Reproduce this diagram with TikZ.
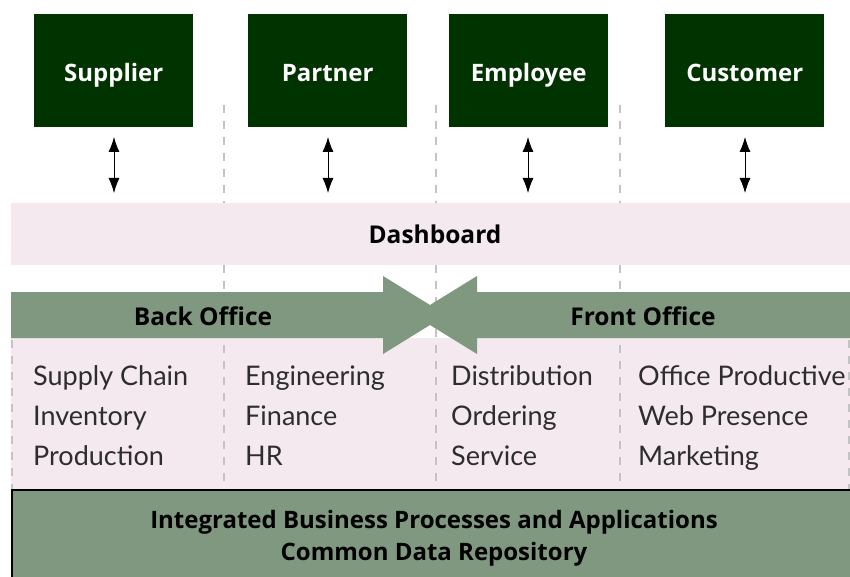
\documentclass[tikz,border=0pt]{standalone}
\usepackage{fontspec}
\setmainfont{Lato}
\newfontfamily\headfont{Open Sans}
\usetikzlibrary{arrows.meta}
\begin{document}
\begin{tikzpicture}[x=1pt,y=-1pt,
  topbox/.style={fill=dkgreen,minimum width=159pt,minimum height=113pt,inner sep=0pt,anchor=north west},
  toplabel/.style={text=white,font=\headfont\fontsize{24}{28}\selectfont\bfseries,inner sep=0pt,anchor=base},
  item/.style={anchor=base west,inner sep=0pt,text=itemgray,font=\fontsize{27}{31}\selectfont},
  head/.style={inner sep=0pt,anchor=base,font=\headfont\fontsize{24.5}{28}\selectfont\bfseries},
  basetext/.style={inner sep=0pt,anchor=base,font=\headfont\fontsize{24}{28}\selectfont\bfseries},
  sep/.style={draw=sepgray,line width=1.5pt,dash pattern=on 8pt off 8pt},
  dbl/.style={line width=0.8pt,{Latex[length=15pt,width=11pt]}-{Latex[length=15pt,width=11pt]}}
]
\definecolor{dkgreen}{RGB}{0,51,0}
\definecolor{mgreen}{RGB}{127,152,127}
\definecolor{lpink}{RGB}{245,233,240}
\definecolor{sepgray}{RGB}{195,195,195}
\definecolor{itemgray}{RGB}{45,45,45}
\useasboundingbox (0,0) rectangle (850,577);
\fill[white] (0,0) rectangle (850,577);
% pink application area
\fill[lpink] (11,338) rectangle (850,490);
% separators
\coordinate (s1t) at (224,105); \coordinate (s1b) at (224,490);
\coordinate (s2t) at (436,105); \coordinate (s2b) at (436,490);
\coordinate (s3t) at (620,105); \coordinate (s3b) at (620,490);
\coordinate (s0t) at (12,340); \coordinate (s0b) at (12,490);
\coordinate (s4t) at (849,340); \coordinate (s4b) at (849,490);
\draw[sep] (s1t) -- (s1b);
\draw[sep] (s2t) -- (s2b);
\draw[sep] (s3t) -- (s3b);
\draw[sep] (s0t) -- (s0b);
\draw[sep] (s4t) -- (s4b);
% dashboard
\fill[lpink] (11,203) rectangle (850,265);
\node[head] (dash) at (435,243) {Dashboard};
% office band with bowtie
\fill[mgreen] (11,292) -- (383,292) -- (383,276) -- (430,305) -- (477,276) -- (477,292)
  -- (850,292) -- (850,338) -- (477,338) -- (477,354) -- (430,325) -- (383,354)
  -- (383,338) -- (11,338) -- cycle;
\node[head] (back) at (203,325) {Back Office};
\node[head] (front) at (643,325) {Front Office};
% top boxes
\node[topbox] (sup) at (34,14) {};
\node[topbox] (par) at (248,14) {};
\node[topbox] (emp) at (449,14) {};
\node[topbox] (cus) at (665,14) {};
\node[toplabel] (supl) at ([yshift=-10.5pt]sup.center) {Supplier};
\node[toplabel] (parl) at ([yshift=-10.5pt]par.center) {Partner};
\node[toplabel] (empl) at ([yshift=-10.5pt]emp.center) {Employee};
\node[toplabel] (cusl) at ([yshift=-10.5pt]cus.center) {Customer};
\coordinate (a1) at (114,137); \coordinate (b1) at (114,193);
\coordinate (a2) at (328,137); \coordinate (b2) at (328,193);
\coordinate (a3) at (528,137); \coordinate (b3) at (528,193);
\coordinate (a4) at (745,137); \coordinate (b4) at (745,193);
\draw[dbl] (a1) -- (b1);
\draw[dbl] (a2) -- (b2);
\draw[dbl] (a3) -- (b3);
\draw[dbl] (a4) -- (b4);
% items
\node[item] (i11) at (33,385) {Supply Chain};
\node[item] (i12) at (33,425) {Inventory};
\node[item] (i13) at (33,465) {Production};
\node[item] (i21) at (245,385) {Engineering};
\node[item] (i22) at (245,425) {Finance};
\node[item] (i23) at (245,465) {HR};
\node[item] (i31) at (451,385) {Distribution};
\node[item] (i32) at (451,425) {Ordering};
\node[item] (i33) at (451,465) {Service};
\node[item] (i41) at (638,385) {Office Productive};
\node[item] (i42) at (638,425) {Web Presence};
\node[item] (i43) at (638,465) {Marketing};
% bottom box
\fill[mgreen] (11,490) rectangle (850,577);
\draw[line width=1.5pt] (11.75,577) -- (11.75,489.75) -- (850,489.75);
\node[basetext] (base1) at (434,528) {Integrated Business Processes and Applications};
\node[basetext] (base2) at (434,560) {Common Data Repository};
\end{tikzpicture}
\end{document}
